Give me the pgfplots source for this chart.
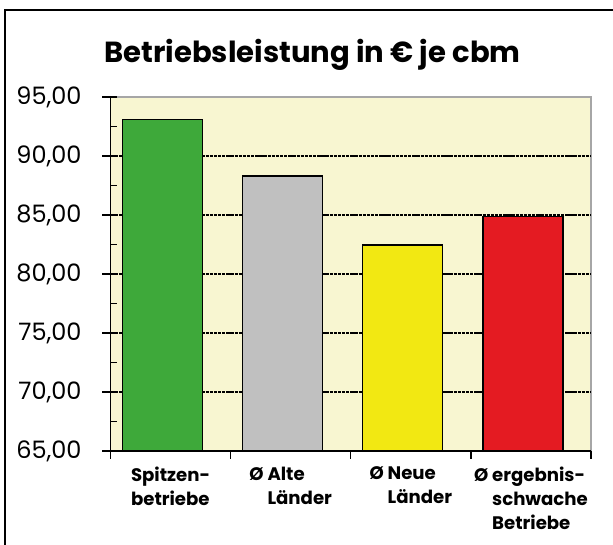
\documentclass[border=0pt]{standalone}
\usepackage{pgfplots}
\pgfplotsset{compat=1.18}
\usepackage{fontspec}
\setmainfont{Poppins}
\definecolor{bgy}{HTML}{F8F6D1}
\definecolor{cgreen}{HTML}{3EA93A}
\definecolor{cgray}{HTML}{C0C0C0}
\definecolor{cyellow}{HTML}{F2E812}
\definecolor{cred}{HTML}{E41B22}
\begin{document}
\begin{tikzpicture}
\begin{axis}[
  name=ax,
  scale only axis, width=360.4pt, height=265.5pt,
  xmin=-0.5, xmax=3.5, ymin=65, ymax=95,
  axis x line*=bottom, axis y line*=left,
  axis line style={line width=1.2pt, black, -},
  axis background/.style={fill=bgy, draw=gray!70, line width=1pt},
  ytick={65,70,...,95},
  minor ytick={65,67.5,...,95},
  tick align=outside,
  major tick length=6pt, minor tick length=5pt,
  minor y tick style={xshift=5pt},
  tick style={black, line width=1pt},
  yticklabel style={font=\fontsize{18}{18}\selectfont, inner sep=0pt, anchor=east, xshift=-15.5pt,
    /pgf/number format/.cd, fixed, fixed zerofill, precision=2, use comma, assume math mode=true},
  xtick={-0.5,0.5,1.5,2.5,3.5},
  xticklabels={},
  extra x ticks={0,1,2,3},
  extra x tick labels={{Spitzen-\\betriebe},{Ø Alte\\\phantom{Ø }Länder},{Ø Neue\\\phantom{Ø }Länder},{Ø ergebnis-\\\phantom{Ø }schwache\\\phantom{Ø }Betriebe}},
  extra x tick style={tick style={draw=none}},
  xticklabel style={font=\bfseries\fontsize{13.6}{18}\selectfont, align=left, anchor=north, inner sep=0pt, yshift=-5.5pt},
  extra y ticks={70,75,80,85,90},
  extra y tick labels={},
  extra y tick style={grid=major, tick style={draw=none}},
  major grid style={black, line width=1pt, dash pattern=on 2.5pt off 0.6pt},
]
\addplot[ybar, bar width=60pt, bar shift=-6pt, fill=cgreen, draw=black, line width=1pt] coordinates {(0,93.11)};
\addplot[ybar, bar width=60pt, bar shift=-6pt, fill=cgray, draw=black, line width=1pt] coordinates {(1,88.31)};
\addplot[ybar, bar width=60pt, bar shift=-6pt, fill=cyellow, draw=black, line width=1pt] coordinates {(2,82.46)};
\addplot[ybar, bar width=60pt, bar shift=-6pt, fill=cred, draw=black, line width=1pt] coordinates {(3,84.86)};
\coordinate (O) at (rel axis cs:0,0);
\end{axis}
\pgfresetboundingbox
\begin{scope}[shift={(O)}, x=0.75pt, y=0.75pt, xshift=-82.875pt, yshift=-70.5pt]
\useasboundingbox (0,0) rectangle (613,545);
\draw[line width=1.5pt] (5,0) -- (5,535) -- (613,535);
\node[font=\bfseries\fontsize{21.8}{24}\selectfont, anchor=base] at (312.5,482) {Betriebsleistung in € je cbm};
\end{scope}
\end{tikzpicture}
\end{document}
